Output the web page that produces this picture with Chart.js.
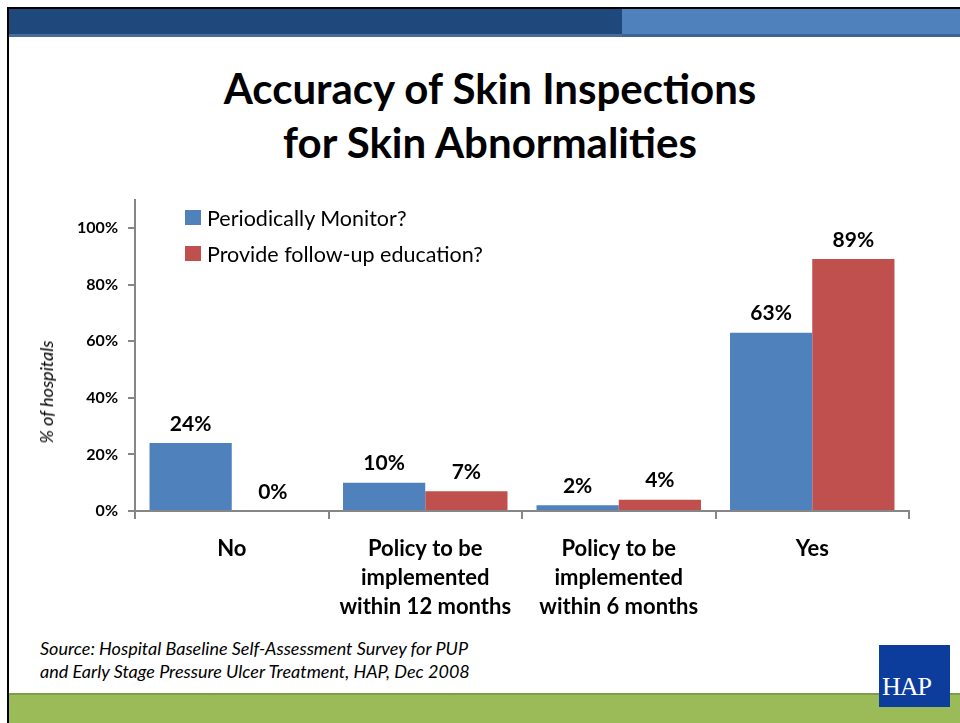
<!DOCTYPE html>
<html lang="en">
<head>
    <meta charset="UTF-8">
    <title>Accuracy of Skin Inspections for Skin Abnormalities</title>
    <script src="https://cdn.jsdelivr.net/npm/chart.js"></script>
    <style>
        body {
            margin: 0;
            width: 960px;
            height: 723px;
            position: relative;
            overflow: hidden;
            background: #fff;
            font-family: Lato, "Open Sans", sans-serif;
        }
        .abs { position: absolute; }
        #frameTop { left: 7px; top: 7px; width: 953px; height: 2px; background: #000; }
        #frameLeft { left: 7px; top: 7px; width: 2px; height: 716px; background: #000; }
        #barDark { left: 9px; top: 9px; width: 613px; height: 25px; background: #1f497d; border-bottom: 3px solid #4a6b97; }
        #barLight { left: 622px; top: 9px; width: 338px; height: 25px; background: #4f81bd; border-bottom: 3px solid #3c6595; }
        #footer { left: 9px; top: 693px; width: 951px; height: 28px; background: #9bbb59; border-top: 2px solid #7f9d45; }
        h1 {
            position: absolute;
            left: 0;
            width: 980px;
            top: 61px;
            margin: 0;
            text-align: center;
            font-size: 42px;
            line-height: 54px;
            font-weight: bold;
            color: #000;
        }
        #yTitle {
            left: 46px;
            top: 392px;
            transform: translate(-50%, -50%) rotate(-90deg);
            font-style: italic;
            font-size: 18px;
            white-space: nowrap;
        }
        #legend { left: 185px; top: 205px; font-size: 21.5px; }
        #legend div { height: 36px; display: flex; align-items: flex-start; }
        #legend span.box { display: inline-block; width: 16px; height: 15px; margin: 5px 6px 0 0; }
        #source {
            left: 40px;
            top: 637px;
            font-size: 18px;
            font-style: italic;
            line-height: 23px;
        }
        #logo { left: 879px; top: 645px; width: 71px; height: 62px; background: #0d3d9c; color: #fff; }
        #logo span {
            position: absolute;
            left: 3px;
            bottom: 5px;
            font-family: "Liberation Serif", serif;
            font-size: 26px;
            letter-spacing: -1px;
        }
        #chartBox { left: 20px; top: 180px; width: 910px; height: 450px; }
    </style>
</head>
<body>
    <div class="abs" id="frameTop"></div>
    <div class="abs" id="frameLeft"></div>
    <div class="abs" id="barDark"></div>
    <div class="abs" id="barLight"></div>
    <div class="abs" id="footer"></div>

    <h1>Accuracy of Skin Inspections<br>for Skin Abnormalities</h1>

    <div class="abs" id="chartBox"><canvas id="chart"></canvas></div>
    <div class="abs" id="yTitle">% of hospitals</div>
    <div class="abs" id="legend"></div>

    <div class="abs" id="source">Source: Hospital Baseline Self-Assessment Survey for PUP<br>and Early Stage Pressure Ulcer Treatment, HAP, Dec 2008</div>
    <div class="abs" id="logo"><span>HAP</span></div>

    <script>
        const categories = [
            'No',
            ['Policy to be', 'implemented', 'within 12 months'],
            ['Policy to be', 'implemented', 'within 6 months'],
            'Yes'
        ];
        const seriesNames = ['Periodically Monitor?', 'Provide follow-up education?'];
        const monitorValues = [24, 10, 2, 63];
        const educationValues = [0, 7, 4, 89];
        const yTickValues = [0, 20, 40, 60, 80, 100];
        const colors = ['#4f81bd', '#c0504d'];

        // legend as plain html, built from the series
        const legend = document.getElementById('legend');
        seriesNames.forEach((name, i) => {
            const row = document.createElement('div');
            row.innerHTML = '<span class="box" style="background:' + colors[i] + '"></span>' + name;
            legend.appendChild(row);
        });

        const valueLabels = {
            id: 'valueLabels',
            afterDatasetsDraw(chart) {
                const c = chart.ctx;
                c.save();
                c.font = 'bold 21px Lato';
                c.fillStyle = '#000';
                c.textAlign = 'center';
                c.textBaseline = 'middle';
                chart.data.datasets.forEach((ds, i) => {
                    chart.getDatasetMeta(i).data.forEach((bar, j) => {
                        c.fillText(ds.data[j] + '%', bar.x, bar.y - 19);
                    });
                });
                c.restore();
            }
        };

        const axisGray = '#868686';
        const ctx = document.getElementById('chart').getContext('2d');
        const chart = new Chart(ctx, {
            type: 'bar',
            data: {
                labels: categories,
                datasets: [
                    { label: seriesNames[0], data: monitorValues, backgroundColor: colors[0] },
                    { label: seriesNames[1], data: educationValues, backgroundColor: colors[1] }
                ]
            },
            options: {
                responsive: true,
                maintainAspectRatio: false,
                animation: false,
                layout: { padding: { top: 1, right: 21, left: 0, bottom: 0 } },
                datasets: { bar: { categoryPercentage: 0.85, barPercentage: 1 } },
                plugins: {
                    legend: { display: false },
                    tooltip: { enabled: false }
                },
                scales: {
                    x: {
                        grid: { offset: true, drawOnChartArea: false, color: axisGray, lineWidth: 2, tickLength: 8 },
                        border: { color: axisGray, width: 2 },
                        ticks: {
                            color: '#000',
                            padding: 16,
                            font: { family: 'Lato', size: 22, weight: 'bold', lineHeight: 1.3 }
                        },
                        afterFit(scale) { scale.height = 119; }
                    },
                    y: {
                        min: 0,
                        max: 110,
                        afterBuildTicks(scale) {
                            scale.ticks = yTickValues.map(v => ({ value: v }));
                        },
                        grid: { drawOnChartArea: false, color: axisGray, lineWidth: 2, tickLength: 7 },
                        border: { color: axisGray, width: 2 },
                        ticks: {
                            color: '#000',
                            padding: 10,
                            font: { family: 'Lato', size: 16, weight: 'bold' },
                            callback: v => v + '%'
                        },
                        afterFit(scale) { scale.width = 115; }
                    }
                }
            },
            plugins: [valueLabels]
        });
    </script>
</body>
</html>
